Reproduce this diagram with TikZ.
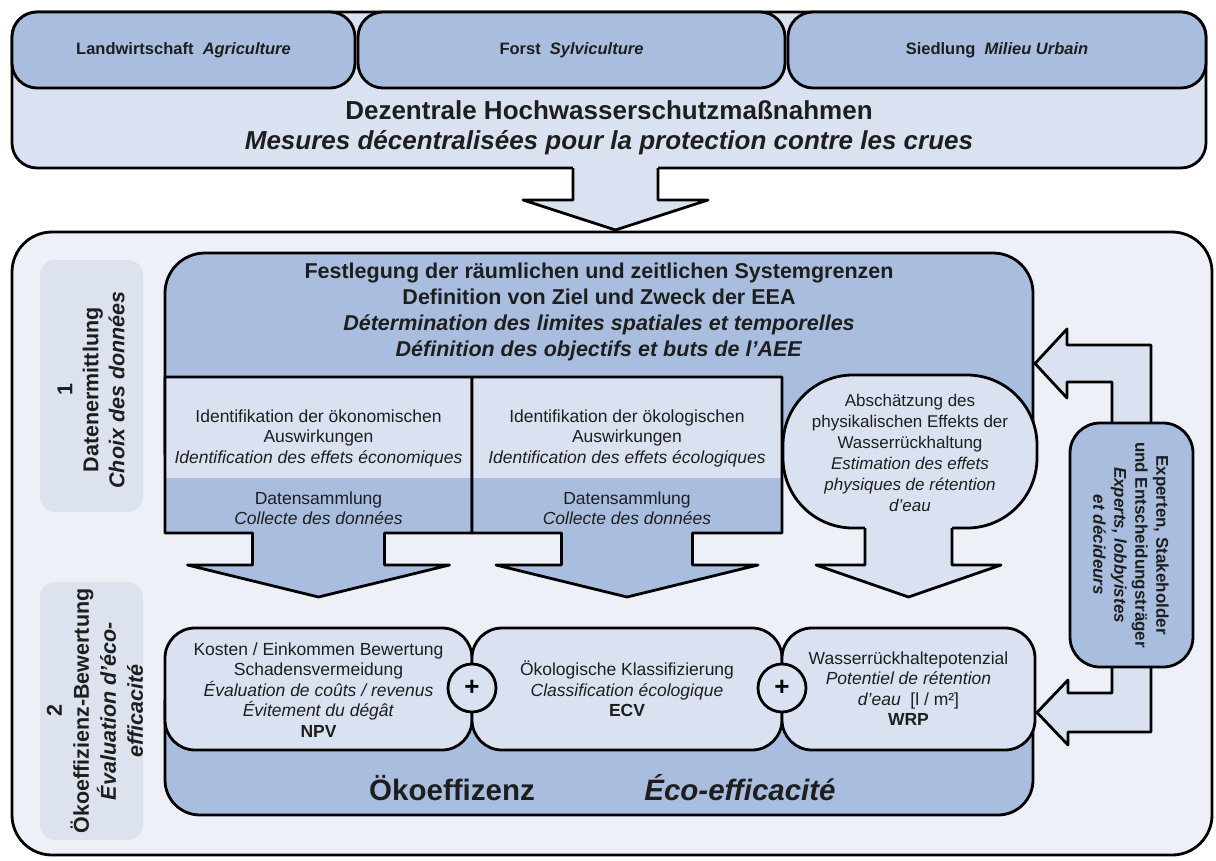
\documentclass[tikz,border=0pt]{standalone}
\usepackage{fontspec}
\setmainfont{Liberation Sans}
\definecolor{mblue}{HTML}{A9BEDF}
\definecolor{lblue}{HTML}{DAE2F1}
\definecolor{bgblue}{HTML}{EDF0F7}
\definecolor{labbg}{HTML}{DCE3EF}
\definecolor{txt}{HTML}{1E1E1E}
\newcommand\myfs[2]{\fontsize{#1pt}{#2pt}\selectfont}
\tikzset{
  ol/.style={line width=2.8pt, draw=black, line join=round},
  tx/.style={align=center, text=txt, inner sep=0pt},
  body/.style={tx, font=\myfs{17.5}{20.5}},
  tabtx/.style={tx, font=\myfs{16.5}{19}\bfseries},
  plus/.style={circle, ol, fill=lblue, minimum size=48pt, inner sep=0pt, font=\myfs{26}{26}\bfseries}
}
\begin{document}
\begin{tikzpicture}[x=1pt,y=-1pt]
\useasboundingbox (0,0) rectangle (1216,860);
\fill[white] (0,0) rectangle (1216,860);

% ---------- top block ----------
\draw[ol, fill=lblue, rounded corners=25] (12,12) rectangle (1206,168);
\draw[ol, fill=mblue, rounded corners=25] (12,12) rectangle (355,88);
\draw[ol, fill=mblue, rounded corners=25] (358,12) rectangle (785,88);
\draw[ol, fill=mblue, rounded corners=25] (788,12) rectangle (1206,88);
\node[tabtx] (t1) at (183.5,50) {Landwirtschaft\ \ \textit{Agriculture}};
\node[tabtx] (t2) at (571.5,50) {Forst\ \ \textit{Sylviculture}};
\node[tabtx] (t3) at (997,50) {Siedlung\ \ \textit{Milieu Urbain}};
\node[tx, font=\myfs{26}{30}\bfseries] (dez) at (609,128)
  {Dezentrale Hochwasserschutzmaßnahmen\\\textit{Mesures décentralisées pour la protection contre les crues}};

% ---------- main frame ----------
\draw[ol, fill=bgblue, rounded corners=40] (12,232) rectangle (1212,855);

% top arrow
\fill[lblue] (573,160) -- (573,200) -- (523,200) -- (615.5,230) -- (708,200) -- (658,200) -- (658,160) -- cycle;
\draw[ol] (573,168) -- (573,200) -- (523,200) -- (615.5,230) -- (708,200) -- (658,200) -- (658,168);

% side labels
\fill[labbg, rounded corners=15] (40,260) rectangle (143,512);
\fill[labbg, rounded corners=15] (40,582) rectangle (143,840);
\node[tx, rotate=90, font=\myfs{21.5}{26}\bfseries] (lab1) at (91,390)
  {1\\Datenermittlung\\\textit{Choix des données}};
\node[tx, rotate=90, font=\myfs{21.5}{27}\bfseries] (lab2) at (95,711)
  {2\\Ökoeffizienz-Bewertung\\\textit{Évaluation d'éco-}\\\textit{efficacité}};

% ---------- Festlegung ----------
\draw[ol, fill=mblue, rounded corners=40] (165,455) -- (165,253) -- (1033,253) -- (1033,455);
\node[tx, font=\myfs{21.5}{26}\bfseries] (fest) at (599,311.5)
  {Festlegung der räumlichen und zeitlichen Systemgrenzen\\
   Definition von Ziel und Zweck der EEA\\
   \textit{Détermination des limites spatiales et temporelles}\\
   \textit{Définition des objectifs et buts de l'AEE}};

% economic box + arrow
\fill[lblue] (165,377) rectangle (472,478);
\fill[mblue] (165,478) rectangle (472,533);
\fill[mblue] (252.5,530) -- (252.5,565) -- (187.5,565) -- (318.5,597) -- (449.5,565) -- (384.5,565) -- (384.5,530) -- cycle;
\draw[ol] (165,377) -- (472,377) -- (472,533) -- (384.5,533) -- (384.5,565) -- (449.5,565) -- (318.5,597) -- (187.5,565) -- (252.5,565) -- (252.5,533) -- (165,533) -- cycle;
\node[body] (eco1) at (318.5,438)
  {Identifikation der ökonomischen\\Auswirkungen\\\textit{Identification des effets économiques}};
\node[body] (eco2) at (318.5,508) {Datensammlung\\\textit{Collecte des données}};

% ecological box + arrow
\fill[lblue] (472,377) rectangle (782,478);
\fill[mblue] (472,478) rectangle (782,533);
\fill[mblue] (561.5,530) -- (561.5,565) -- (496,565) -- (627,597) -- (758,565) -- (692.5,565) -- (692.5,530) -- cycle;
\draw[ol] (472,377) -- (782,377) -- (782,533) -- (692.5,533) -- (692.5,565) -- (758,565) -- (627,597) -- (496,565) -- (561.5,565) -- (561.5,533) -- (472,533) -- cycle;
\node[body] (ecl1) at (627,438)
  {Identifikation der ökologischen\\Auswirkungen\\\textit{Identification des effets écologiques}};
\node[body] (ecl2) at (627,508) {Datensammlung\\\textit{Collecte des données}};

% physical effect bubble + arrow
\draw[ol, fill=lblue, rounded corners=70] (783,375) rectangle (1037,528);
\fill[lblue] (865,520) -- (865,565) -- (816,565) -- (908.5,597) -- (1001,565) -- (952,565) -- (952,520) -- cycle;
\draw[ol] (865,528) -- (865,565) -- (816,565) -- (908.5,597) -- (1001,565) -- (952,565) -- (952,528);
\node[tx, font=\myfs{17}{21}] (phy) at (910,452.5)
  {Abschätzung des\\physikalischen Effekts der\\Wasserrückhaltung\\\textit{Estimation des effets}\\\textit{physiques de rétention}\\\textit{d'eau}};

% ---------- lower block ----------
\draw[ol, fill=mblue, rounded corners=35] (165,700) -- (165,815) -- (1033,815) -- (1033,700);
\draw[ol, fill=lblue, rounded corners=30] (165,628) rectangle (472,750);
\draw[ol, fill=lblue, rounded corners=30] (472,628) rectangle (782,750);
\draw[ol, fill=lblue, rounded corners=30] (782,628) rectangle (1035,750);
\node[plus] (p1) at (472,688) {+};
\node[plus] (p2) at (782,688) {+};
\node[body] (npv) at (318.5,690)
  {Kosten / Einkommen Bewertung\\Schadensvermeidung\\\textit{Évaluation de coûts / revenus}\\\textit{Évitement du dégât}\\\textbf{NPV}};
\node[body] (ecv) at (627,689)
  {Ökologische Klassifizierung\\\textit{Classification écologique}\\\textbf{ECV}};
\node[body] (wrp) at (908.5,688.5)
  {Wasserrückhaltepotenzial\\\textit{Potentiel de rétention}\\\textit{d'eau}\ \ [l / m²]\\\textbf{WRP}};
\node[tx, font=\myfs{29.5}{32}\bfseries] (oe1) at (452,788) {Ökoeffizenz};
\node[tx, font=\myfs{29.5}{32}\bfseries\itshape] (oe2) at (740,788) {Éco-efficacité};

% ---------- experts + feedback arrows ----------
\fill[lblue] (1112,430) -- (1112,382) -- (1067,382) -- (1067,398) -- (1035,363.5) -- (1067,329) -- (1067,345) -- (1151,345) -- (1151,430) -- cycle;
\draw[ol] (1112,423) -- (1112,382) -- (1067,382) -- (1067,398) -- (1035,363.5) -- (1067,329) -- (1067,345) -- (1151,345) -- (1151,423);
\fill[lblue] (1112,660) -- (1112,693) -- (1068,693) -- (1068,680) -- (1037,712.5) -- (1068,745) -- (1068,732) -- (1151,732) -- (1151,660) -- cycle;
\draw[ol] (1112,667) -- (1112,693) -- (1068,693) -- (1068,680) -- (1037,712.5) -- (1068,745) -- (1068,732) -- (1151,732) -- (1151,667);
\draw[ol, fill=mblue, rounded corners=30] (1070,423) rectangle (1193,667);
\node[tx, rotate=-90, font=\myfs{17}{21}\bfseries] (exp) at (1131,545)
  {Experten, Stakeholder\\und Entscheidungsträger\\\textit{Experts, lobbyistes}\\\textit{et décideurs}};
\end{tikzpicture}
\end{document}
